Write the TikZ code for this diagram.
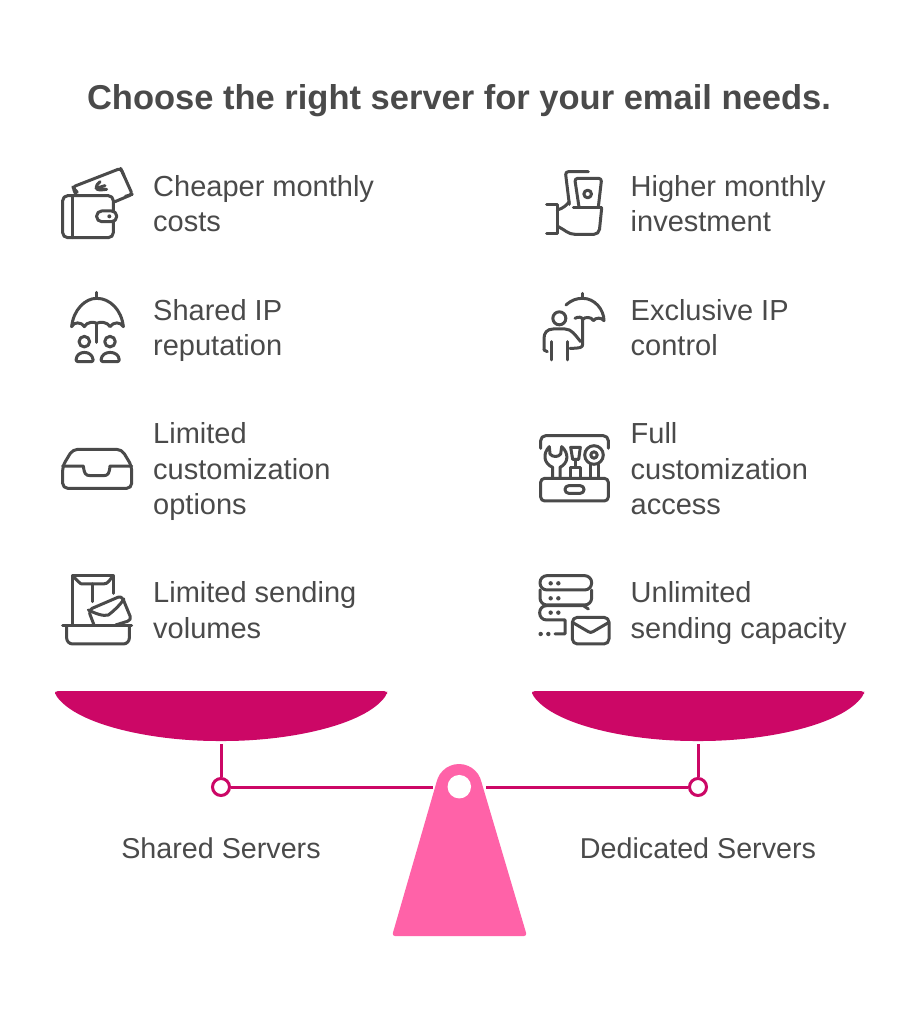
\documentclass[tikz,border=0pt]{standalone}
\usepackage{fontspec}
\setmainfont{Liberation Sans}
\definecolor{ink}{HTML}{4A4A4A}
\definecolor{pan}{HTML}{CC0766}
\definecolor{hot}{HTML}{FF62A8}
\tikzset{
  lab/.style={anchor=north west,align=left,text=ink,inner sep=0pt,font=\fontsize{29}{35.5}\selectfont},
  sidecaption/.style={anchor=center,text=ink,inner sep=0pt,font=\fontsize{28.7}{35.5}\selectfont},
  icon/.style={x=0.3333pt,y=-0.3333pt,draw=ink,line width=3pt,line cap=round,line join=round},
  joint/.style={circle,draw=pan,fill=white,line width=3pt,minimum size=17pt,inner sep=0pt},
  rod/.style={draw=pan,line width=3pt}
}
\begin{document}
\begin{tikzpicture}[x=1pt,y=-1pt]
\useasboundingbox (0,0) rectangle (919,1024);
\fill[white] (0,0) rectangle (919,1024);
\node[anchor=center,text=ink,inner sep=0pt,font=\fontsize{34.5}{40}\selectfont\bfseries] (title) at (459,100.5) {Choose the right server for your email needs.};
% labels
\node[lab] (l1) at (153,171.2) {\strut Cheaper monthly\\costs\strut};
\node[lab] (l2) at (153,295) {\strut Shared IP\\reputation\strut};
\node[lab] (l3) at (153,418.7) {\strut Limited\\customization\\options\strut};
\node[lab] (l4) at (153,577.7) {\strut Limited sending\\volumes\strut};
\node[lab] (r1) at (630.5,171.2) {\strut Higher monthly\\investment\strut};
\node[lab] (r2) at (630.5,295) {\strut Exclusive IP\\control\strut};
\node[lab] (r3) at (630.5,418.7) {\strut Full\\customization\\access\strut};
\node[lab] (r4) at (630.5,577.7) {\strut Unlimited\\sending capacity\strut};
\node[sidecaption] (sn) at (221,848) {Shared Servers};
\node[sidecaption] (dn) at (698,848) {Dedicated Servers};
% icons: left top
\begin{scope}[shift={(50,155)},icon]
 \draw[rounded corners=5pt] (38,122) rectangle (190,248);
 \draw (68,122) -- (68,248);
 \draw[fill=white,rounded corners=5pt] (140,168) rectangle (200,200);
 \fill[ink] (178,184) circle (2pt);
 \draw[rounded corners=3pt] (78,120) -- (68,96) -- (212,40) -- (247,118) -- (195,140);
 \draw (68,96) -- (82,112) (212,40) -- (222,62) (247,118) -- (226,124);
 \draw (150,80) .. controls (135,92) and (135,105) .. (150,105) -- (170,103) (138,100) -- (165,92);
 \draw (140,412) -- (140,430);
 \draw (65,515) .. controls (70,465) and (105,430) .. (140,430) .. controls (180,430) and (215,465) .. (220,515);
 \draw (65,515) .. controls (70,500) and (95,500) .. (103,515) .. controls (110,500) and (133,500) .. (140,505) .. controls (150,500) and (172,500) .. (180,515) .. controls (190,500) and (212,500) .. (220,515);
 \draw (140,505) -- (140,562);
 \draw (103,560) circle (5.3pt) (180,560) circle (5.3pt);
 \draw[rounded corners=2pt] (78,620) .. controls (80,585) and (126,585) .. (130,620) -- cycle;
 \draw[rounded corners=2pt] (153,620) .. controls (155,585) and (206,585) .. (208,620) -- cycle;
\end{scope}
\begin{scope}[shift={(50,430)},icon]
 \draw[rounded corners=5pt] (68,58) -- (215,58) -- (245,108) -- (245,175) -- (38,175) -- (38,108) -- cycle;
 \draw (38,108) -- (100,108) .. controls (103,130) and (105,137) .. (122,137) -- (160,137) .. controls (175,137) and (178,130) .. (180,108) -- (245,108);
 \draw (68,585) -- (68,437) -- (190,437) -- (190,490);
 \draw (68,437) -- (85,455) .. controls (90,462) and (95,462) .. (100,462) -- (160,462) .. controls (175,462) and (178,450) .. (190,437);
 \draw (128,462) -- (128,515);
 \draw (38,588) -- (245,588);
 \draw[rounded corners=6pt] (50,588) -- (50,642) -- (238,642) -- (238,588);
 \draw[rounded corners=4pt] (132,585) -- (115,540) -- (215,497) -- (245,570) -- (197,585);
 \draw (115,540) .. controls (135,550) and (160,560) .. (175,555) .. controls (195,540) and (210,525) .. (222,507);
\end{scope}
\begin{scope}[shift={(530,155)},icon]
 \draw[rounded corners=3pt] (175,50) -- (106,50) -- (118,148);
 \draw[rounded corners=3pt] (147,156) -- (134,70) -- (215,70) -- (205,156);
 \draw (173,117) circle (3.8pt);
 \draw (130,158) -- (215,158);
 \draw (50,148) -- (82,148) -- (82,237) -- (50,237);
 \draw (82,165) .. controls (100,160) and (110,150) .. (118,140);
 \draw[rounded corners=5pt] (215,160) -- (207,238) -- (135,238);
 \draw (135,238) .. controls (115,238) and (105,225) .. (85,215);
 \draw (158,415) -- (158,430);
 \draw (108,450) .. controls (125,435) and (140,430) .. (158,430) .. controls (195,430) and (222,465) .. (222,497);
 \draw (135,490) .. controls (145,485) and (155,485) .. (158,493) .. controls (165,485) and (185,485) .. (190,497) .. controls (197,487) and (215,487) .. (222,497);
 \draw (158,493) -- (158,568) .. controls (158,578) and (150,580) .. (120,580);
 \draw (88,490) circle (6.5pt);
 \draw (42,585) -- (42,550) .. controls (42,535) and (50,522) .. (70,522) -- (105,522) .. controls (125,522) and (135,540) .. (152,560);
 \draw (42,585) -- (52,590);
 \draw (65,615) -- (65,560) (113,615) -- (113,560);
\end{scope}
\begin{scope}[shift={(530,430)},icon]
 \draw[rounded corners=5pt] (32,55) -- (32,17) -- (235,17) -- (235,55);
 \draw[rounded corners=4pt] (32,145) rectangle (235,213);
 \draw[rounded corners=3.7pt] (105,167) rectangle (162,190);
 \draw (68,145) -- (68,112) .. controls (40,100) and (38,70) .. (58,50) -- (60,72) .. controls (68,82) and (85,82) .. (92,72) -- (95,50) .. controls (118,70) and (115,100) .. (90,112) -- (90,145);
 \draw (122,145) -- (122,112) -- (150,112) -- (150,145);
 \draw (137,112) -- (137,88);
 \draw (128,88) -- (146,88) -- (151,52) -- (122,52) -- cycle;
 \draw (192,75) circle (9.3pt) (192,75) circle (3.2pt);
 \draw (180,145) -- (180,104) (204,145) -- (204,104);
 \draw[rounded corners=7pt] (30,437) -- (30,480) -- (185,480) -- (185,437) -- cycle;
 \draw[rounded corners=7pt] (30,480) -- (30,525) -- (185,525) -- (185,480);
 \draw (175,537) -- (160,527) -- (50,527) .. controls (22,527) and (22,570) .. (50,570) -- (105,570) -- (105,612) -- (75,612);
 \foreach \xx/\yy in {62/460,85/460,62/505,85/505,62/548,85/548,32/612,55/612}
   \fill[ink] (\xx,\yy) circle (2.2pt);
 \draw[rounded corners=5pt] (127,562) rectangle (237,642);
 \draw (127,577) -- (175,605) .. controls (180,608) and (184,608) .. (189,605) -- (237,577);
\end{scope}
% pans
\fill[pan,rounded corners=3pt] (55,691) -- (387,691) -- (387,694) .. controls (365,725) and (290,741) .. (221,741) .. controls (152,741) and (77,725) .. (55,694) -- cycle;
\fill[pan,rounded corners=3pt] (532,691) -- (864,691) -- (864,694) .. controls (842,725) and (767,741) .. (698,741) .. controls (629,741) and (554,725) .. (532,694) -- cycle;
% scale
\coordinate (sl) at (221,744);
\coordinate (sr) at (698,744);
\coordinate (bl) at (433,787);
\coordinate (br) at (486,787);
\node[joint] (jl) at (221,787) {};
\node[joint] (jr) at (698,787) {};
\draw[rod] (sl) -- (jl);
\draw[rod] (sr) -- (jr);
\draw[rod] (jl) -- (bl);
\draw[rod] (jr) -- (br);
\fill[hot] (459,787) circle (23pt);
\fill[hot,rounded corners=3pt] (437,780.5) -- (481,780.5) -- (527,936) -- (392,936) -- cycle;
\node[circle,fill=white,minimum size=23.5pt,inner sep=0pt] (hole) at (459.3,786.7) {};
\end{tikzpicture}
\end{document}
